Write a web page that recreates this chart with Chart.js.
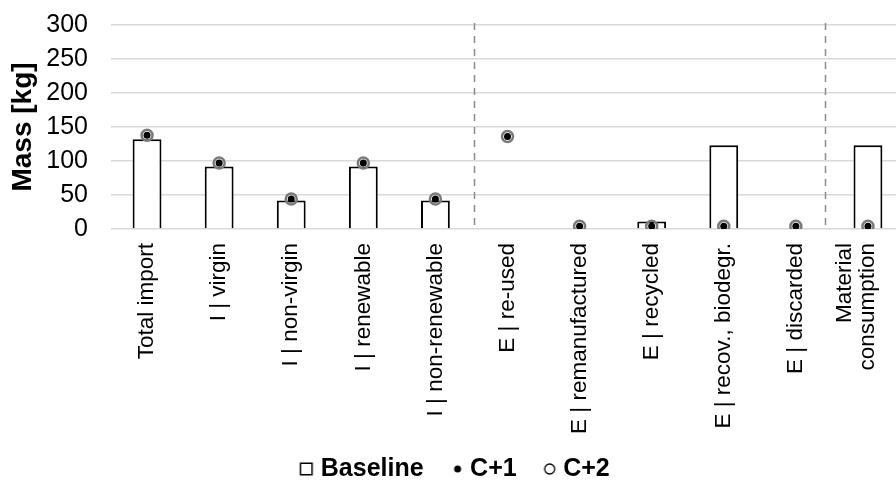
<!doctype html>
<html lang="en">
  <head>
    <meta charset="utf-8">
    <title>Mass per flow</title>
    <style>
      html, body { margin: 0; padding: 0; overflow: hidden; background: #fff; }
      #wrap { width: 896px; height: 482px; }
    </style>
  </head>
  <body>
    <div id="wrap">
      <canvas id="chart" width="896" height="482"></canvas>
    </div>
    <script src="https://cdn.jsdelivr.net/npm/chart.js@4.4.1/dist/chart.umd.min.js"></script>
    <script>
      const categories = [
        'Total import', 'I | virgin', 'I | non-virgin', 'I | renewable', 'I | non-renewable',
        'E | re-used', 'E | remanufactured', 'E | recycled', 'E | recov., biodegr.', 'E | discarded',
        ['Material', 'consumption']
      ];
      const baseline = [132, 92, 42, 92, 42, 0, 0, 11, 123, 0, 123];
      const cPlus1 = [138, 97, 44, 97, 44, 136, 4, 4, 4, 4, 4];
      const cPlus2 = [138, 97, 44, 97, 44, 136, 4, 4, 4, 4, 4];
      const yTicks = [0, 50, 100, 150, 200, 250, 300];
      // dashed separators, in category units
      const dividers = [4.54, 9.4];

      const fontFamily = '"Liberation Sans", Arial, sans-serif';

      // small canvases used as legend symbols (symbol sits right of centre
      // so it ends up closer to its text)
      const makeIcon = (w, h, draw) => {
        const c = document.createElement('canvas');
        c.width = w;
        c.height = h;
        draw(c.getContext('2d'));
        return c;
      };
      const iconBaseline = makeIcon(26, 14, g => {
        g.fillStyle = '#fff';
        g.fillRect(11, 0, 14, 14);
        g.strokeStyle = '#000';
        g.lineWidth = 1.5;
        g.strokeRect(12.25, 1.25, 11.5, 11.5);
      });
      const iconC1 = makeIcon(26, 14, g => {
        g.fillStyle = '#000';
        g.beginPath();
        g.arc(20, 7, 3.5, 0, Math.PI * 2);
        g.fill();
      });
      const iconC2 = makeIcon(26, 14, g => {
        g.strokeStyle = '#000';
        g.lineWidth = 1.3;
        g.beginPath();
        g.arc(19, 7, 5, 0, Math.PI * 2);
        g.stroke();
      });
      const legendIcons = [iconBaseline, iconC1, iconC2];

      // the plot runs a little past the right edge of the picture
      const overflowRight = 8;
      const stretchPlugin = {
        id: 'stretch',
        afterLayout(chart) {
          const x = chart.scales.x;
          x.right += overflowRight;
          x.width += overflowRight;
          x.configure();
          chart.chartArea.right += overflowRight;
          chart.chartArea.width += overflowRight;
          // keep the legend centred on the wider plot
          chart.legend.left += overflowRight / 2;
          chart.legend.right += overflowRight / 2;
        },
        beforeDraw(chart) {
          // centre multi-line rotated labels on their tick
          const x = chart.scales.x;
          x.getLabelItems().forEach(item => {
            if (Array.isArray(item.label) && item.label.length > 1) {
              item.textOffset = -(item.label.length - 1) * item.font.lineHeight / 2;
            }
          });
        }
      };

      const dividerPlugin = {
        id: 'dividers',
        beforeDatasetsDraw(chart) {
          const ctx = chart.ctx;
          const x = chart.scales.x;
          const area = chart.chartArea;
          ctx.save();
          ctx.strokeStyle = '#8c8c8c';
          ctx.lineWidth = 1.5;
          ctx.setLineDash([7, 6]);
          dividers.forEach(v => {
            const px = Math.round(x.getPixelForValue(v)) + 0.5;
            ctx.beginPath();
            ctx.moveTo(px, area.top - 2);
            ctx.lineTo(px, area.bottom);
            ctx.stroke();
          });
          ctx.restore();
        }
      };

      const ctx = document.getElementById('chart').getContext('2d');
      const myChart = new Chart(ctx, {
        type: 'bar',
        data: {
          labels: categories,
          datasets: [
            {
              label: 'Baseline',
              data: baseline,
              backgroundColor: '#fff',
              borderColor: '#000',
              borderWidth: 2,
              barPercentage: 0.4,
              categoryPercentage: 1,
              order: 3
            },
            {
              type: 'line',
              label: 'C+1',
              data: cPlus1,
              showLine: false,
              pointRadius: 3.5,
              pointBackgroundColor: '#000',
              pointBorderColor: '#000',
              pointBorderWidth: 0,
              order: 2
            },
            {
              type: 'line',
              label: 'C+2',
              data: cPlus2,
              showLine: false,
              pointRadius: 5.5,
              pointBackgroundColor: 'rgba(0,0,0,0)',
              pointBorderColor: '#7a7a7a',
              pointBorderWidth: 2.5,
              order: 1
            }
          ]
        },
        options: {
          responsive: false,
          animation: false,
          layout: {
            autoPadding: false,
            padding: { top: 25, right: 0, bottom: -9.5, left: 0 }
          },
          plugins: {
            tooltip: { enabled: false },
            legend: {
              position: 'bottom',
              labels: {
                usePointStyle: true,
                boxWidth: 14,
                padding: 20,
                color: '#000',
                font: { family: fontFamily, size: 25, weight: 'bold' },
                sort: (a, b) => a.datasetIndex - b.datasetIndex,
                generateLabels: (chart) => {
                  const items = Chart.defaults.plugins.legend.labels.generateLabels(chart);
                  items.forEach(it => { it.pointStyle = legendIcons[it.datasetIndex]; });
                  return items;
                }
              }
            }
          },
          scales: {
            x: {
              grid: { display: false, drawTicks: false },
              border: { display: false },
              ticks: {
                autoSkip: false,
                minRotation: 90,
                maxRotation: 90,
                padding: 14,
                color: '#000',
                font: { family: fontFamily, size: 22.5, lineHeight: 1.05 }
              },
              afterFit: (scale) => {
                scale.height = 207.5;
                scale.paddingLeft = 0;
                scale.paddingRight = 0;
              }
            },
            y: {
              min: 0,
              max: 300,
              afterBuildTicks: (scale) => { scale.ticks = yTicks.map(v => ({ value: v })); },
              grid: { color: '#d9d9d9', lineWidth: 1.5, drawTicks: false },
              border: { display: false },
              ticks: {
                padding: 23,
                color: '#000',
                font: { family: fontFamily, size: 25 }
              },
              title: {
                display: true,
                text: 'Mass [kg]',
                color: '#000',
                padding: { top: 6, bottom: 4 },
                font: { family: fontFamily, size: 28, weight: 'bold' }
              },
              afterFit: (scale) => {
                scale.width = 111;
                scale.paddingTop = 0;
                scale.paddingBottom = 0;
              }
            }
          }
        },
        plugins: [stretchPlugin, dividerPlugin]
      });
    </script>
  </body>
</html>
